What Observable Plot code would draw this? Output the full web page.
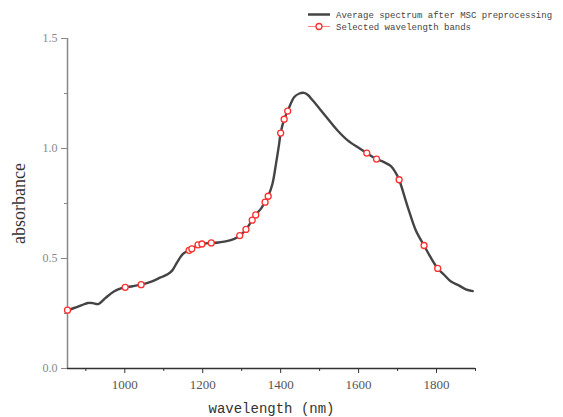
<!DOCTYPE html>
<html>
<head>
<meta charset="utf-8">
<script src="https://cdn.jsdelivr.net/npm/d3@7"></script>
<script src="https://cdn.jsdelivr.net/npm/@observablehq/plot@0.6"></script>
<style>
  body { margin: 0; background: #fff; }
  #chart svg { display: block; }
  g[aria-label="y-axis label"] text { font: 18px "Liberation Serif", serif; fill: #333; }
  g[aria-label="x-axis label"] text { font: 14px "Liberation Mono", monospace; fill: #333; }
</style>
</head>
<body>
<div id="chart"></div>
<script>
// Average spectrum after MSC preprocessing
const wavelengths = [853, 870, 890, 905, 918, 932, 950, 972, 990, 1001, 1020, 1042, 1070, 1092, 1110, 1122, 1135, 1150, 1165, 1172, 1188, 1198, 1222, 1240, 1259, 1281, 1295, 1311, 1327, 1336, 1350, 1360, 1368, 1379, 1388, 1396, 1400, 1409, 1418, 1435, 1448, 1460, 1470, 1482, 1512, 1546, 1572, 1600, 1621, 1646, 1665, 1683, 1695, 1704, 1726, 1747, 1768, 1785, 1803, 1820, 1837, 1856, 1875, 1893];
const absorbance = [0.265, 0.275, 0.288, 0.298, 0.297, 0.293, 0.320, 0.350, 0.364, 0.369, 0.374, 0.381, 0.396, 0.414, 0.428, 0.446, 0.485, 0.522, 0.537, 0.544, 0.562, 0.566, 0.571, 0.573, 0.578, 0.589, 0.604, 0.632, 0.674, 0.698, 0.728, 0.756, 0.783, 0.840, 0.930, 1.020, 1.070, 1.133, 1.170, 1.234, 1.250, 1.253, 1.243, 1.219, 1.155, 1.082, 1.037, 1.003, 0.979, 0.952, 0.938, 0.920, 0.890, 0.858, 0.735, 0.627, 0.559, 0.505, 0.455, 0.425, 0.395, 0.379, 0.360, 0.352];
// Selected wavelength bands
const selectedWavelengths = [853, 1001, 1042, 1165, 1172, 1188, 1198, 1222, 1295, 1311, 1327, 1336, 1360, 1368, 1400, 1409, 1418, 1621, 1646, 1704, 1768, 1803];
const selectedAbsorbance = [0.265, 0.369, 0.381, 0.537, 0.544, 0.562, 0.566, 0.571, 0.604, 0.632, 0.674, 0.698, 0.756, 0.783, 1.070, 1.133, 1.170, 0.979, 0.952, 0.858, 0.559, 0.455];
// Axis ticks
const xMajorTicks = [1000, 1200, 1400, 1600, 1800];
const xMinorTicks = [900, 1100, 1300, 1500, 1700, 1900];
const yMajorTicks = [0, 0.5, 1.0, 1.5];
const yMinorTicks = [0.25, 0.75, 1.25];
const legendLabels = ["Average spectrum after MSC preprocessing", "Selected wavelength bands"];

const spectrum = wavelengths.map((w, i) => ({w, a: absorbance[i]}));
const selected = selectedWavelengths.map((w, i) => ({w, a: selectedAbsorbance[i]}));

const plot = Plot.plot({
  width: 563,
  height: 417,
  marginTop: 38,
  marginBottom: 49,
  marginLeft: 67,
  marginRight: 88,
  style: {fontFamily: "'Liberation Serif', serif", background: "#fff"},
  x: {domain: [853, 1900]},
  y: {domain: [0, 1.5]},
  marks: [
    Plot.axisY({ticks: yMajorTicks, tickSize: 6, tickPadding: 4, fontSize: 12, stroke: "#888", color: "#888",
      tickFormat: d => d.toFixed(1), label: "absorbance", labelAnchor: "center", labelArrow: "none", labelOffset: 55}),
    Plot.axisY({ticks: yMinorTicks, tickSize: 3, tickFormat: () => "", stroke: "#888", label: null}),
    Plot.axisX({ticks: xMajorTicks, tickSize: 5, tickPadding: 6, fontSize: 13, stroke: "#333", color: "#555",
      tickFormat: d => String(d), label: "wavelength (nm)", labelAnchor: "center", labelArrow: "none", labelOffset: 44}),
    Plot.axisX({ticks: xMinorTicks, tickSize: 3, tickFormat: () => "", stroke: "#333", label: null}),
    Plot.ruleX([853], {stroke: "#888", strokeWidth: 1.5}),
    Plot.ruleY([0], {stroke: "#333", strokeWidth: 1.5}),
    Plot.line(spectrum, {x: "w", y: "a", stroke: "#444", strokeWidth: 2.4, curve: "catmull-rom"}),
    Plot.dot(selected, {x: "w", y: "a", r: 3, stroke: "#ff3030", strokeWidth: 1.3, fill: "#fff"})
  ]
});

document.getElementById("chart").appendChild(plot);

// Legend drawn inside the SVG (top right)
const svg = d3.select(plot);
const lg = svg.append("g").attr("font-family", "'Liberation Mono', monospace").attr("font-size", 9)
  .attr("fill", "#444").attr("text-anchor", "start");
lg.append("line").attr("x1", 308).attr("x2", 330).attr("y1", 14.5).attr("y2", 14.5).attr("stroke", "#444").attr("stroke-width", 2.5);
lg.append("text").attr("x", 336).attr("y", 14.5).attr("dy", "0.35em").text(legendLabels[0]);
lg.append("line").attr("x1", 308).attr("x2", 330).attr("y1", 26.5).attr("y2", 26.5).attr("stroke", "#ff6060").attr("stroke-width", 0.8);
lg.append("circle").attr("cx", 319).attr("cy", 26.5).attr("r", 3).attr("fill", "#fff").attr("stroke", "#ff3030").attr("stroke-width", 1.3);
lg.append("text").attr("x", 336).attr("y", 26.5).attr("dy", "0.35em").text(legendLabels[1]);
</script>
</body>
</html>
